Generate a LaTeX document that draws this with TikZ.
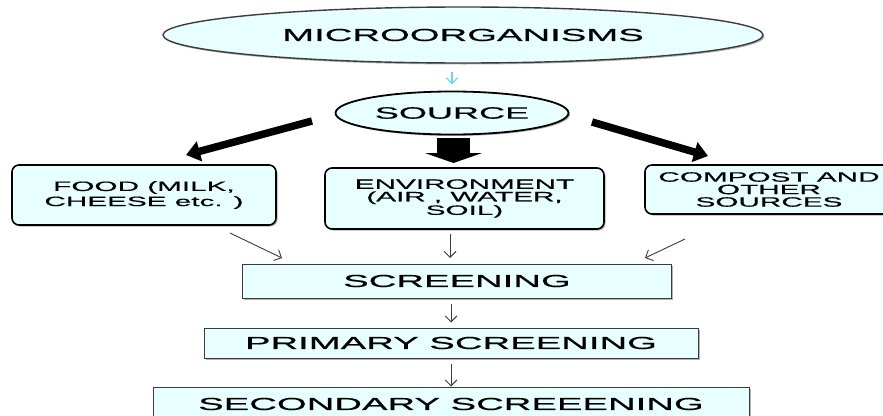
\documentclass[tikz,border=0pt]{standalone}
\usepackage{fontspec}
\newfontfamily\wfont[FakeStretch=2.2,FakeBold=0.5]{Liberation Sans}
\usetikzlibrary{shapes.geometric,arrows.meta,shadows}
\definecolor{boxfill}{RGB}{232,255,255}
\definecolor{edgegray}{RGB}{60,60,60}
\definecolor{cyanarr}{RGB}{100,220,228}
\begin{document}
\begin{tikzpicture}[x=1pt,y=-1pt,
 shadowed/.style={drop shadow={shadow xshift=1.5pt,shadow yshift=-1.5pt,fill=black,opacity=.3}},
 bigtext/.style={font=\wfont\fontsize{17.4}{19}\selectfont},
 smalltext/.style={font=\wfont\fontsize{13.5}{12.5}\selectfont, align=center},
 ovalnode/.style={ellipse, draw=black, fill=boxfill, inner sep=0pt, shadowed},
 roundbox/.style={rectangle, rounded corners=7pt, draw=black, line width=1.6pt, fill=boxfill, inner sep=0pt, shadowed, smalltext},
 flatbox/.style={rectangle, draw=edgegray, line width=1pt, fill=boxfill, inner sep=0pt, shadowed, bigtext},
 smallarrow/.style={draw=edgegray, line width=0.9pt, -{Straight Barb[length=6pt,width=12pt]}},
 thickarrow/.style={line width=7.5pt, -{Triangle[length=14pt,width=20pt]}}
]
\useasboundingbox (0,0) rectangle (883,415);
\clip (0,0) rectangle (883,415);

% nodes
\node[ovalnode, minimum width=600pt, minimum height=56pt, line width=1.4pt, draw=edgegray, bigtext] (micro) at (463,35) {MICROORGANISMS};
\node[ovalnode, minimum width=233pt, minimum height=43pt, line width=1.8pt, font=\wfont\fontsize{16.4}{18}\selectfont] (source) at (452,113) {SOURCE};

\node[roundbox, minimum width=264pt, minimum height=60pt] (food) at (144,195) {FOOD (MILK,\\[1.5pt]CHEESE etc. )};
\node[roundbox, minimum width=279pt, minimum height=61pt] (env) at (464.5,198.5) {ENVIRONMENT\\(AIR , WATER,\\SOIL)};
\node[roundbox, minimum width=248pt, minimum height=49pt] (comp) at (769,189.5) {COMPOST AND\\OTHER\\SOURCES};

\node[flatbox, minimum width=429pt, minimum height=34pt] (scr) at (457,281) {SCREENING};
\node[flatbox, minimum width=494pt, minimum height=30pt] (prim) at (451,343) {PRIMARY SCREENING};
\node[flatbox, minimum width=596pt, minimum height=34pt] (sec) at (451,404) {SECONDARY SCREEENING};

% free ends of connectors
\coordinate (lt) at (312,121); \coordinate (lh) at (186,155);
\coordinate (mt) at (453.5,138); \coordinate (mh) at (453.5,163);
\coordinate (rt) at (592,122); \coordinate (rh) at (708,156);
\coordinate (fa) at (230,233); \coordinate (fb) at (282,258);
\coordinate (ea) at (450,234); \coordinate (eb) at (450,258);
\coordinate (ca) at (685,239); \coordinate (cb) at (645,258);

% connectors
\draw[draw=cyanarr, line width=1.2pt, -{Straight Barb[length=6pt,width=11pt]}, shorten <=8pt, shorten >=6pt] (source.north |- micro.south) -- (source.north);
\draw[thickarrow] (lt) -- (lh);
\draw[thickarrow] (rt) -- (rh);
\draw[line width=33pt, -{Triangle[length=10pt,width=57pt]}] (mt) -- (mh);

\draw[smallarrow] (fa) -- (fb);
\draw[smallarrow] (ea) -- (eb);
\draw[smallarrow] (ca) -- (cb);
\draw[smallarrow, shorten <=5pt, shorten >=5pt] (prim.north |- scr.south) -- (prim.north);
\draw[smallarrow, shorten <=5pt] (sec.north |- prim.south) -- (sec.north);
\end{tikzpicture}
\end{document}
